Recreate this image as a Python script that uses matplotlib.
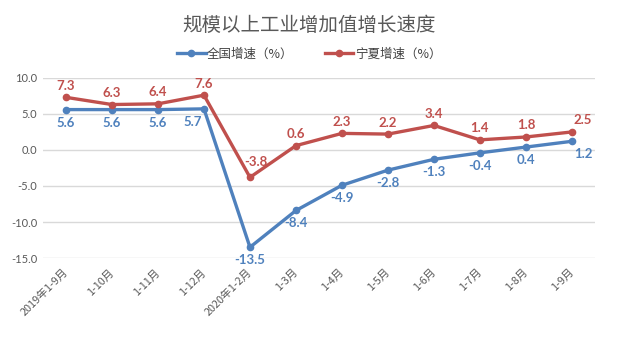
import matplotlib
matplotlib.use("Agg")
import matplotlib.pyplot as plt
from matplotlib.ticker import FixedLocator

plt.rcParams['font.family'] = ['Noto Sans CJK SC', 'DejaVu Sans']

categories = ["2019年1-9月", "1-10月", "1-11月", "1-12月", "2020年1-2月", "1-3月",
              "1-4月", "1-5月", "1-6月", "1-7月", "1-8月", "1-9月"]
national = [5.6, 5.6, 5.6, 5.7, -13.5, -8.4, -4.9, -2.8, -1.3, -0.4, 0.4, 1.2]
ningxia = [7.3, 6.3, 6.4, 7.6, -3.8, 0.6, 2.3, 2.2, 3.4, 1.4, 1.8, 2.5]
yticks = [10.0, 5.0, 0.0, -5.0, -10.0, -15.0]

blue = "#4F81BD"
red = "#C0504D"
gray = "#595959"

# label nudges (points) for a few labels, as in the reference layout
blue_dx = {3: -8, 11: 8}
red_dx = {4: 4, 11: 8}
red_dy = {4: 7}

fig = plt.figure(figsize=(6.18, 3.54), dpi=100)
ax = fig.add_axes([0.0696, 0.271, 0.893, 0.509])

x = list(range(len(categories)))
ax.plot(x, national, color=blue, lw=2.4, marker='o', ms=4.5, label="全国增速（%）",
        solid_joinstyle='round', zorder=3)
ax.plot(x, ningxia, color=red, lw=2.4, marker='o', ms=4.5, label="宁夏增速（%）",
        solid_joinstyle='round', zorder=3)

for xi, v in zip(x, national):
    ax.annotate(f"{v:.1f}", (xi, v), xytext=(blue_dx.get(xi, 0), -5), textcoords='offset points',
                ha='center', va='top', color=blue, fontsize=9.5, fontweight='bold',
                family='Lato')
for xi, v in zip(x, ningxia):
    ax.annotate(f"{v:.1f}", (xi, v), xytext=(red_dx.get(xi, 0), red_dy.get(xi, 4)),
                textcoords='offset points', ha='center', va='bottom', color=red,
                fontsize=9.5, fontweight='bold', family='Lato')

ax.set_xlim(-0.5, len(categories) - 0.5)
ax.set_ylim(-15, 10)
ax.yaxis.set_major_locator(FixedLocator(yticks))
ax.set_yticklabels([f"{t:.1f}" for t in yticks], fontsize=8, color=gray, family='Lato')
ax.set_xticks(x)
ax.set_xticklabels(categories, rotation=45, ha='right', va='center', rotation_mode='anchor',
                   fontsize=7.8, color=gray)
ax.tick_params(axis='y', length=0, pad=4)
ax.tick_params(axis='x', length=0, pad=9)
ax.grid(axis='y', color='#D9D9D9', lw=1)
ax.set_axisbelow(True)
for s in ax.spines.values():
    s.set_visible(False)

fig.text(0.5, 0.929, "规模以上工业增加值增长速度", ha='center', va='center',
         fontsize=14, color=gray)
fig.legend(loc='center', bbox_to_anchor=(0.5, 0.847), ncol=2, frameon=False,
           prop={'size': 9}, handlelength=2.3, columnspacing=2.5, handletextpad=0.1,
           labelcolor='#404040')

fig.savefig("out.png", dpi=100, facecolor='white')
